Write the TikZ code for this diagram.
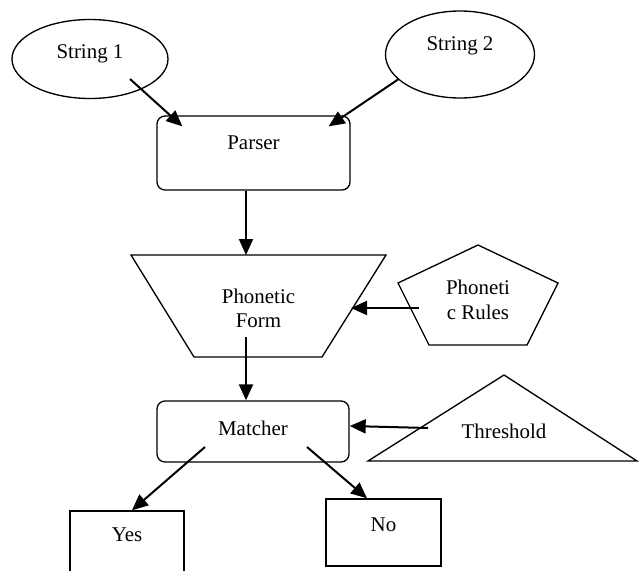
\documentclass[tikz,border=0pt]{standalone}
\usepackage{fontspec}
\setmainfont{Liberation Serif}
\usetikzlibrary{shapes.geometric,arrows.meta}

\begin{document}
\begin{tikzpicture}[x=0.75pt, y=-0.75pt,
		font=\fontsize{15.7}{18}\selectfont,
		oval/.style={draw, ellipse, line width=1pt, inner sep=0pt},
		roundbox/.style={draw, rectangle, rounded corners=6pt, line width=1pt},
		plainbox/.style={draw, rectangle, line width=1.1pt},
		outline/.style={line width=1pt, line join=miter},
		flow/.style={-{Triangle[length=12pt, width=10.5pt]}, line width=1.5pt},
		txt/.style={align=center, inner sep=0pt}]
	\useasboundingbox (0,0) rectangle (639,571);
	% part for the two inputs
	\node[oval, minimum width=117pt, minimum height=59.25pt] (str1) at (90,59) {};
	\node[txt] (str1txt) at ([yshift=3.75pt]str1.center) {String 1};
	\node[oval, minimum width=111.75pt, minimum height=65.25pt] (str2) at (460,54.5) {};
	\node[txt] (str2txt) at ([yshift=6.5pt]str2.center) {String 2};
	% parser and matcher
	\node[roundbox, minimum width=144.75pt, minimum height=55.5pt] (parser) at (253.5,153) {};
	\node[txt] (parsertxt) at ([yshift=7.5pt]parser.center) {Parser};
	\node[roundbox, minimum width=144pt, minimum height=45.75pt] (matcher) at (253,431.5) {};
	\node[txt] (matchertxt) at ([yshift=2.5pt]matcher.center) {Matcher};
	% outcomes
	\node[plainbox, minimum width=85.5pt, minimum height=50.25pt] (yes) at (127,544.5) {};
	\node[txt] (yestxt) at ([yshift=7.5pt]yes.center) {Yes};
	\node[plainbox, minimum width=86.25pt, minimum height=50.25pt] (no) at (383.5,532.5) {};
	\node[txt] (notxt) at ([yshift=5.5pt]no.center) {No};
	% part for the polygons
	\draw[outline]
		(131,255) -- (386,255) -- (322,357) -- (194,357) -- cycle
		(478,245) -- (558,283) -- (527,345) -- (429,345) -- (398,283) -- cycle
		(504,375) -- (637,461) -- (368,461) -- cycle;
	\node[txt, font=\fontsize{15.7}{18}\selectfont] (form) at (258.5,308.5) {Phonetic\\Form};
	\node[txt, font=\fontsize{15.7}{18.5}\selectfont] (rules) at (478,300) {Phoneti\\c Rules};
	\node[txt] (thr) at (504,431) {Threshold};
	\coordinate (fin) at (246,255);
	\coordinate (fout) at (246,337);
	\coordinate (fside) at (351,308);
	% arrows
	\draw[flow] ([shift={(40,20)}]str1.center) -- ([shift={(26,11)}]parser.north west);
	\draw[flow] ([shift={(-62,25)}]str2.center) -- ([shift={(-22,11)}]parser.north east);
	\draw[flow] (parser.south -| fin) -- (fin);
	\draw[flow] ([shift={(-59,8)}]rules.center) -- (fside);
	\draw[flow] (fout) -- (fout |- matcher.north);
	\draw[flow] ([shift={(-76,-3)}]thr.center) -- ([shift={(0,-5.5)}]matcher.east);
	\draw[flow] ([shift={(-48,15.5)}]matcher.center) -- ([shift={(5,0)}]yes.north);
	\draw[flow] ([shift={(54,15.5)}]matcher.center) -- ([shift={(-16.5,0)}]no.north);
\end{tikzpicture}
\end{document}
